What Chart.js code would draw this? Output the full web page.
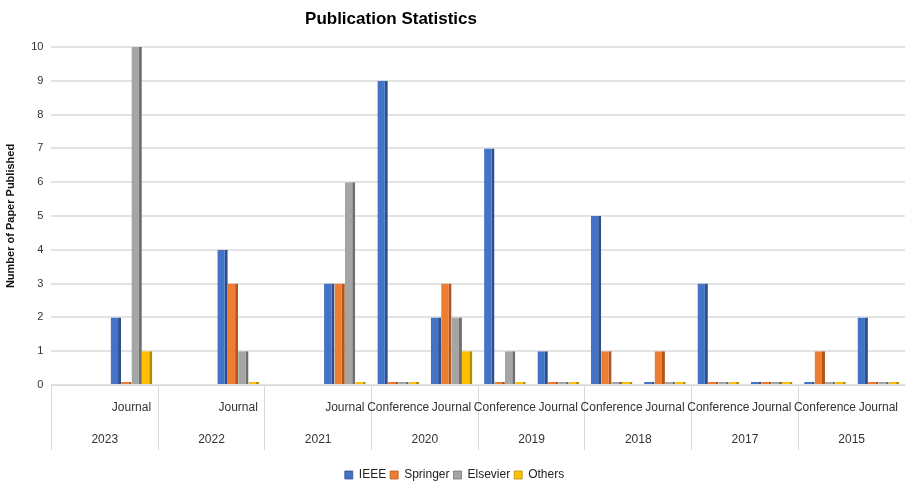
<!DOCTYPE html>
<html>
<head>
<meta charset="utf-8">
<script src="https://cdn.jsdelivr.net/npm/chart.js@4"></script>
<style>
  html, body { margin: 0; padding: 0; background: #fff; }
  #wrap { width: 910px; height: 483px; }
</style>
</head>
<body>
<div id="wrap"><canvas id="myChart" width="910" height="483"></canvas></div>
<script>
// slots: each year has a Conference and a Journal slot (empty ones are blank)
const types = ['', 'Journal', '', 'Journal', '', 'Journal', 'Conference', 'Journal',
    'Conference', 'Journal', 'Conference', 'Journal', 'Conference', 'Journal', 'Conference', 'Journal'];
const years = ['2023', '2022', '2021', '2020', '2019', '2018', '2017', '2015'];

const ieee      = [null, 2, null, 4, null, 3, 9, 2, 7, 1, 5, 0, 3, 0, 0, 2];
const springer  = [null, 0, null, 3, null, 3, 0, 3, 0, 0, 1, 1, 0, 0, 1, 0];
const elsevier  = [null, 10, null, 1, null, 6, 0, 2, 1, 0, 0, 0, 0, 0, 0, 0];
const others    = [null, 1, null, 0, null, 0, 0, 1, 0, 0, 0, 0, 0, 0, 0, 0];

const yTicks = [0, 1, 2, 3, 4, 5, 6, 7, 8, 9, 10];

const sans = '"Liberation Sans", Arial, sans-serif';

function makeSet(label, data, fill, side) {
    return {
        label: label,
        data: data,
        backgroundColor: fill,
        borderColor: side,
        borderWidth: { top: 0, right: 3, bottom: 0, left: 0 },
        borderSkipped: false,
        minBarLength: 3,
        categoryPercentage: 0.78,
        barPercentage: 1
    };
}

// title drawn by hand so it can sit left of centre like the original
const titlePlugin = {
    id: 'titleText',
    afterDraw(chart) {
        const c = chart.ctx;
        const text = 'Publication Statistics';
        c.save();
        let size = 21;
        c.font = 'bold ' + size + 'px ' + sans;
        while (size > 12 && c.measureText(text).width > 174) {
            size -= 0.5;
            c.font = 'bold ' + size + 'px ' + sans;
        }
        c.fillStyle = '#000';
        c.textAlign = 'center';
        c.textBaseline = 'middle';
        c.fillText(text, 391, 19);
        c.restore();
    }
};

const ctx = document.getElementById('myChart').getContext('2d');
const myChart = new Chart(ctx, { // eslint-disable-line
    type: 'bar',
    data: {
        labels: types,
        datasets: [
            makeSet('IEEE', ieee, '#4472C4', '#2E4F8E'),
            makeSet('Springer', springer, '#ED7D31', '#B3561C'),
            makeSet('Elsevier', elsevier, '#A5A5A5', '#6F6F6F'),
            makeSet('Others', others, '#FFC000', '#B88A00')
        ]
    },
    options: {
        responsive: false,
        animation: false,
        layout: { padding: { top: 47, right: 5, left: 4, bottom: 0 } },
        plugins: {
            title: { display: false },
            tooltip: { enabled: false },
            legend: {
                position: 'bottom',
                maxHeight: 18,
                labels: {
                    boxWidth: 8,
                    boxHeight: 8,
                    padding: 4,
                    color: '#222',
                    font: { family: sans, size: 12 }
                }
            }
        },
        scales: {
            y: {
                min: 0,
                max: 10,
                afterBuildTicks(axis) {
                    axis.ticks = yTicks.map(v => ({ value: v }));
                },
                border: { display: false },
                grid: { color: '#e3e3e3', lineWidth: 2, drawTicks: false },
                ticks: {
                    padding: 8,
                    color: '#333',
                    font: { family: sans, size: 11 }
                },
                title: {
                    display: true,
                    text: 'Number of Paper Published',
                    color: '#111',
                    font: { family: sans, size: 11, weight: 'bold' },
                    padding: { top: 0, bottom: 6 }
                }
            },
            x: {
                position: 'bottom',
                border: { display: true, color: '#d9d9d9' },
                grid: {
                    offset: true,
                    drawOnChartArea: false,
                    tickLength: 65,
                    color: (c) => (c.index % 2 === 0 ? '#d9d9d9' : 'rgba(0,0,0,0)')
                },
                ticks: {
                    padding: -50,
                    autoSkip: false,
                    maxRotation: 0,
                    color: '#333',
                    font: { family: sans, size: 12 }
                },
                afterFit(scale) {
                    scale.height = 38;
                }
            },
            x2: {
                type: 'category',
                labels: years,
                position: 'bottom',
                offset: true,
                border: { display: false },
                grid: { display: false, drawTicks: false },
                ticks: {
                    padding: 9,
                    autoSkip: false,
                    maxRotation: 0,
                    color: '#333',
                    font: { family: sans, size: 12 }
                },
                afterFit(scale) {
                    scale.height = 42;
                }
            }
        }
    },
    plugins: [titlePlugin]
});
</script>
</body>
</html>
